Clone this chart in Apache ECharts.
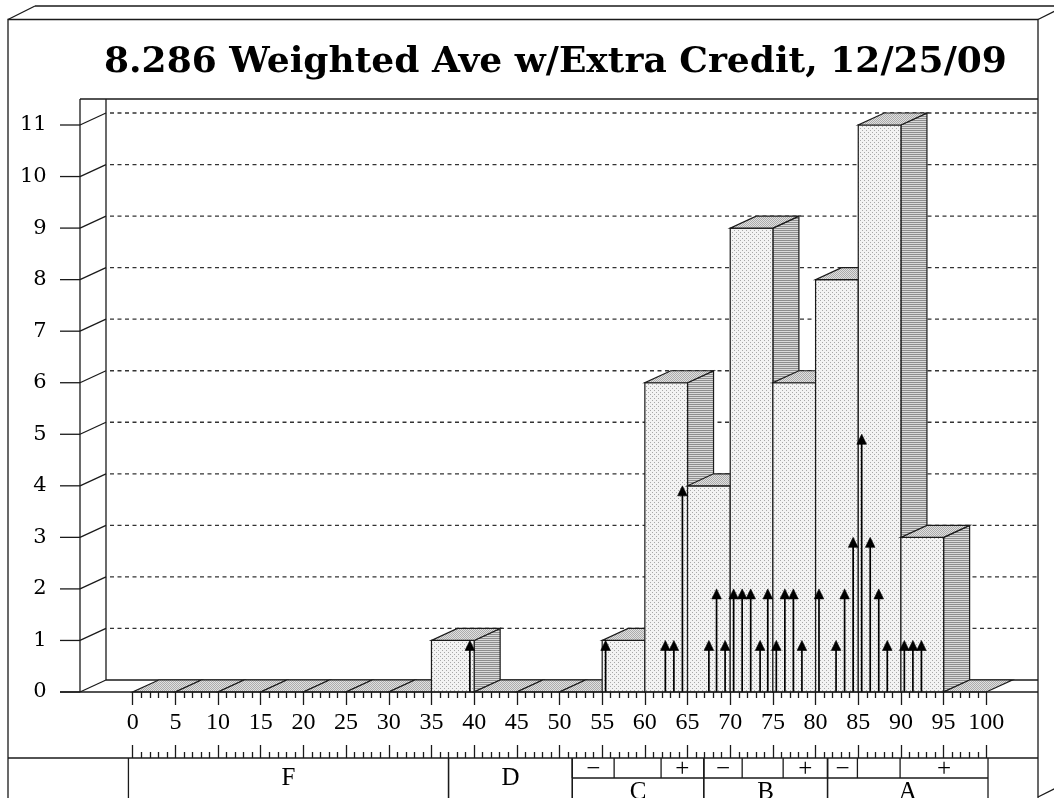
<!DOCTYPE html>
<html>
<head>
<meta charset="utf-8">
<script src="https://cdn.jsdelivr.net/npm/echarts/dist/echarts.min.js"></script>
<style>
html,body{margin:0;padding:0;background:#fff;}
#chart{width:1054px;height:798px;}
</style>
</head>
<body>
<div id="chart"></div>
<script>
// ---------------- data ----------------
const titleText = '8.286 Weighted Ave w/Extra Credit, 12/25/09';
const binStarts = [0,5,10,15,20,25,30,35,40,45,50,55,60,65,70,75,80,85,90,95];
const binCounts = [0,0,0,0,0,0,0,1,0,0,0,1,6,4,9,6,8,11,3,0];
const binWidth = 5;
const arrowScores = [39.5,55.4,62.4,63.4,64.4,67.5,68.4,69.4,70.4,71.4,72.4,73.5,74.4,75.4,76.4,77.4,78.4,80.4,82.4,83.4,84.4,85.4,86.4,87.4,88.4,90.4,91.4,92.4];
const arrowCounts = [1,1,1,1,4,1,2,1,2,2,2,1,2,1,2,2,1,2,1,2,3,5,3,2,1,1,1,1];
const yTicks = [0,1,2,3,4,5,6,7,8,9,10,11];
const gradeLetters = ['F','D','C','B','A'];
const gradeEdges = [-0.5,37,51.5,66.9,81.4,100.2];
const subMarks = ['\u2212','','+','\u2212','','+','\u2212','','+'];
const subEdges = [51.5,56.4,61.9,66.9,71.4,76.2,81.4,84.9,89.9,100.2];

// ---------------- layout / style ----------------
const DX = 26, DY = 12;
const FRONT_X = 80, BACK_X = 106, PLOT_TOP = 99, RIGHT_X = 1038, TICK_L = 60;
const TABLE_TOP = 758, TABLE_MID = 778, TABLE_BOT = 798;
const INK = '#1a1a1a';
const LW = 1.3;

function pat(w, h, bg, dots, color) {
  const c = document.createElement('canvas');
  c.width = w; c.height = h;
  const g = c.getContext('2d');
  g.fillStyle = bg; g.fillRect(0, 0, w, h);
  g.fillStyle = color;
  dots.forEach(d => g.fillRect(d[0], d[1], 1, 1));
  return { image: c, repeat: 'repeat' };
}
const frontPat = pat(4, 4, '#f3f3f3', [[0,0],[2,2]], '#a8a8a8');
const topPat = pat(2, 2, '#e0e0e0', [[0,0],[1,1]], '#ababab');
const sidePat = pat(2, 2, '#dadada', [[0,0],[1,0]], '#8e8e8e');

const chart = echarts.init(document.getElementById('chart'), null, {renderer: 'canvas'});

function ln(x1, y1, x2, y2, extra) {
  return Object.assign({type: 'line', shape: {x1, y1, x2, y2}, style: {stroke: INK, lineWidth: LW}, z: 1, silent: true}, extra || {});
}

const serifNum = 'Liberation Serif';

const option = {
  animation: false,
  backgroundColor: '#fff',
  title: {
    text: titleText,
    left: 104, top: 45, padding: 0,
    textStyle: {fontFamily: 'DejaVu Serif', fontWeight: 'bold', fontSize: 36, color: '#000'}
  },
  grid: [
    {left: 132.7, right: 67.7, top: 125, bottom: 106},
    {left: 132.7, right: 67.7, top: 757, height: 1}
  ],
  xAxis: [
    {
      type: 'value', min: 0, max: 100, interval: 5, gridIndex: 0,
      axisLine: {show: false},
      axisTick: {show: true, length: 13, lineStyle: {color: INK, width: LW}},
      minorTick: {show: true, splitNumber: 5, length: 6, lineStyle: {color: INK, width: LW}},
      axisLabel: {margin: 19, fontFamily: serifNum, fontSize: 24, color: '#000'},
      splitLine: {show: false}, minorSplitLine: {show: false}
    },
    {
      type: 'value', min: 0, max: 100, interval: 5, gridIndex: 1,
      axisLine: {show: false},
      axisTick: {show: true, inside: true, length: 13, lineStyle: {color: INK, width: LW}},
      minorTick: {show: true, splitNumber: 5, length: 6, lineStyle: {color: INK, width: LW}},
      axisLabel: {show: false},
      splitLine: {show: false}
    }
  ],
  yAxis: [
    {
      type: 'value', min: 0, max: 11, interval: 1, gridIndex: 0,
      axisLine: {show: false}, axisTick: {show: false}, splitLine: {show: false},
      axisLabel: {margin: 86, fontFamily: 'DejaVu Serif', fontSize: 21, color: '#000'}
    },
    {type: 'value', gridIndex: 1, show: false, min: 0, max: 1}
  ],
  graphic: [
    // outer 3D frame
    {type: 'polyline', shape: {points: [[8, 800], [8, 19.5], [RIGHT_X, 19.5], [RIGHT_X, 800]]}, style: {stroke: INK, lineWidth: LW, fill: null}, z: 1, silent: true},
    ln(8, 19.5, 35, 6), ln(35, 6, 1056, 6), ln(RIGHT_X, 19.5, 1056, 10.5), ln(RIGHT_X, 797, 1056, 788),
    // plot box
    ln(FRONT_X, PLOT_TOP, RIGHT_X, PLOT_TOP),
    ln(FRONT_X, PLOT_TOP, FRONT_X, 692),
    ln(BACK_X, PLOT_TOP, BACK_X, 680),
    ln(BACK_X, 680, RIGHT_X, 680),
    ln(TICK_L, 692, RIGHT_X, 692, {z: 5}),
    // table top
    ln(8, TABLE_TOP, RIGHT_X, TABLE_TOP)
  ],
  series: [
    // y ticks, depth diagonals, back gridlines
    {
      type: 'custom', xAxisIndex: 0, yAxisIndex: 0, z: 1, silent: true, clip: false,
      data: yTicks.map(v => [0, v]),
      renderItem: function (params, api) {
        const y = api.coord([0, api.value(1)])[1];
        const ch = [
          {type: 'line', shape: {x1: TICK_L, y1: y, x2: FRONT_X, y2: y}, style: {stroke: INK, lineWidth: LW}},
          {type: 'line', shape: {x1: FRONT_X, y1: y, x2: BACK_X, y2: y - DY}, style: {stroke: INK, lineWidth: LW}}
        ];
        if (api.value(1) > 0) {
          ch.push({type: 'line', shape: {x1: BACK_X + 4, y1: y - DY, x2: RIGHT_X, y2: y - DY},
            style: {stroke: '#333', lineWidth: 1.3, lineDash: [4, 3.5]}});
        }
        return {type: 'group', children: ch};
      }
    },
    // 3D histogram bars
    {
      type: 'custom', xAxisIndex: 0, yAxisIndex: 0, z: 2, silent: true, clip: false,
      data: binStarts.map((s, i) => [s, binCounts[i]]),
      renderItem: function (params, api) {
        const s = api.value(0), c = api.value(1);
        const p0 = api.coord([s, 0]), p1 = api.coord([s + binWidth, c]);
        const l = p0[0], r = p1[0], b = p0[1], t = p1[1];
        const st = {stroke: INK, lineWidth: 1.2, lineJoin: 'miter'};
        const ch = [];
        if (c > 0) {
          ch.push({type: 'polygon', shape: {points: [[r, t], [r + DX, t - DY], [r + DX, b - DY], [r, b]]}, style: Object.assign({fill: sidePat}, st)});
          ch.push({type: 'rect', shape: {x: l, y: t, width: r - l, height: b - t}, style: Object.assign({fill: frontPat}, st)});
        }
        ch.push({type: 'polygon', shape: {points: [[l, t], [r, t], [r + DX, t - DY], [l + DX, t - DY]]}, style: Object.assign({fill: topPat}, st)});
        return {type: 'group', children: ch};
      }
    },
    // arrows for individual score clusters
    {
      type: 'custom', xAxisIndex: 0, yAxisIndex: 0, z: 3, silent: true, clip: false,
      data: arrowScores.map((s, i) => [s, arrowCounts[i]]),
      renderItem: function (params, api) {
        const b = api.coord([api.value(0), 0]), t = api.coord([api.value(0), api.value(1)]);
        const HW = 4.8, HH = 10;
        return {type: 'group', children: [
          {type: 'line', shape: {x1: b[0], y1: b[1], x2: b[0], y2: t[1] + HH - 1}, style: {stroke: '#000', lineWidth: 1.7}},
          {type: 'polygon', shape: {points: [[t[0], t[1]], [t[0] - HW, t[1] + HH], [t[0] + HW, t[1] + HH]]}, style: {fill: '#000', stroke: '#000', lineWidth: 0.6}}
        ]};
      }
    },
    // grade table: letter cells
    {
      type: 'custom', xAxisIndex: 0, yAxisIndex: 0, z: 3, silent: true, clip: false,
      data: gradeLetters.map((g, i) => [gradeEdges[i], gradeEdges[i + 1], i]),
      encode: {x: [0, 1], y: 2},
      renderItem: function (params, api) {
        const a = api.value(0), e = api.value(1), i = api.value(2);
        const xa = api.coord([a, 0])[0], xe = api.coord([e, 0])[0];
        const hasSub = a >= subEdges[0] - 0.01;
        const ch = [
          {type: 'line', shape: {x1: xa, y1: TABLE_TOP, x2: xa, y2: TABLE_BOT + 2}, style: {stroke: INK, lineWidth: LW}},
          {type: 'line', shape: {x1: xe, y1: TABLE_TOP, x2: xe, y2: TABLE_BOT + 2}, style: {stroke: INK, lineWidth: LW}}
        ];
        if (hasSub) {
          ch.push({type: 'line', shape: {x1: xa, y1: TABLE_MID, x2: xe, y2: TABLE_MID}, style: {stroke: INK, lineWidth: LW}});
        }
        ch.push({type: 'text', x: (xa + xe) / 2, y: hasSub ? 792 : 778,
          style: {text: gradeLetters[i], fill: '#000', font: '25px "Liberation Serif"', align: 'center', verticalAlign: 'middle'}});
        return {type: 'group', children: ch};
      }
    },
    // grade table: +/- sub cells
    {
      type: 'custom', xAxisIndex: 0, yAxisIndex: 0, z: 3, silent: true, clip: false,
      data: subMarks.map((m, i) => [subEdges[i], subEdges[i + 1], i]),
      encode: {x: [0, 1], y: 2},
      renderItem: function (params, api) {
        const a = api.value(0), e = api.value(1), i = api.value(2);
        const xa = api.coord([a, 0])[0], xe = api.coord([e, 0])[0];
        const ch = [
          {type: 'line', shape: {x1: xa, y1: TABLE_TOP, x2: xa, y2: TABLE_MID}, style: {stroke: INK, lineWidth: LW}}
        ];
        if (subMarks[i]) {
          ch.push({type: 'text', x: (xa + xe) / 2, y: 769,
            style: {text: subMarks[i], fill: '#000', font: '25px "Liberation Serif"', align: 'center', verticalAlign: 'middle'}});
        }
        return {type: 'group', children: ch};
      }
    }
  ]
};
chart.setOption(option);
</script>
</body>
</html>
